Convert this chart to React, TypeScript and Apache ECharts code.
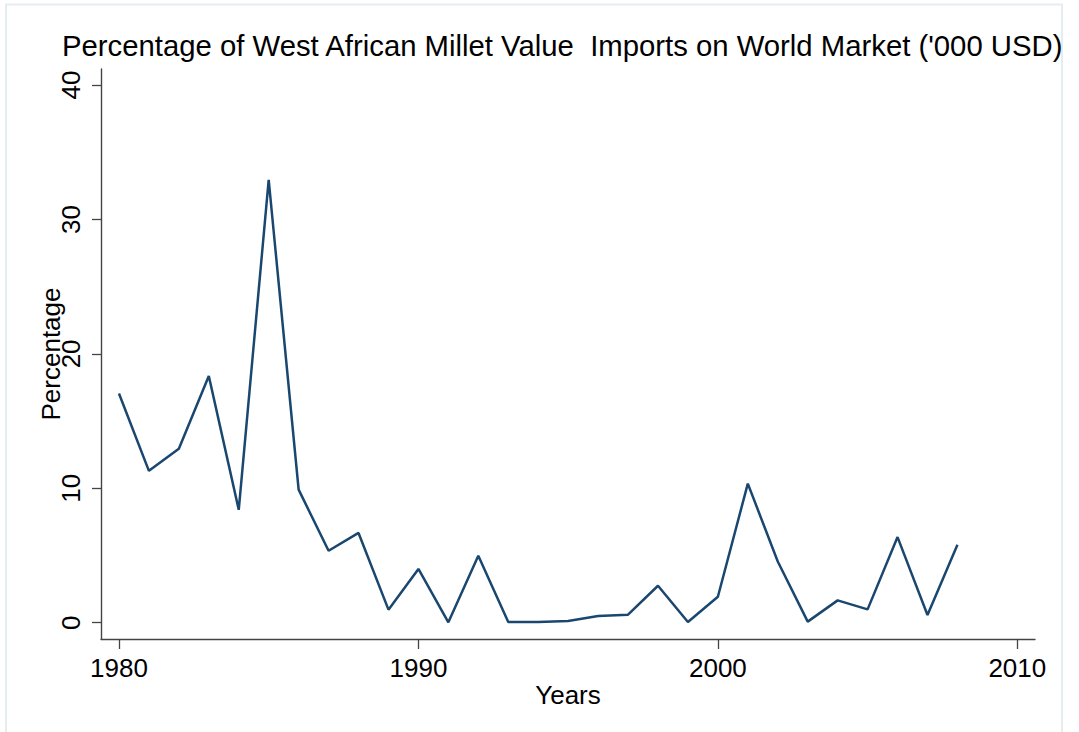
import React, { useEffect, useRef } from "react";
import * as echarts from "echarts";

const titleText = "Percentage of West African Millet Value  Imports on World Market ('000 USD)";
const years = [
  1980, 1981, 1982, 1983, 1984, 1985, 1986, 1987, 1988, 1989,
  1990, 1991, 1992, 1993, 1994, 1995, 1996, 1997, 1998, 1999,
  2000, 2001, 2002, 2003, 2004, 2005, 2006, 2007, 2008,
];
const percentage = [
  17.05, 11.3, 12.95, 18.35, 8.4, 32.95, 9.9, 5.35, 6.68, 0.97,
  4.0, 0.03, 4.98, 0.05, 0.05, 0.13, 0.5, 0.6, 2.75, 0.05,
  1.93, 10.35, 4.55, 0.08, 1.66, 0.99, 6.37, 0.57, 5.8,
];
const xTicks = [1980, 1990, 2000, 2010];
const yTicks = [0, 10, 20, 30, 40];

const FONT = "Liberation Sans";

export default function App() {
  const ref = useRef<HTMLDivElement>(null);
  useEffect(() => {
    document.body.style.margin = "0";
    const chart = echarts.init(ref.current!, null, { renderer: "svg" });
    chart.setOption({
      animation: false,
      backgroundColor: "#ffffff",
      graphic: [
        {
          type: "rect",
          shape: { x: 6, y: 4.5, width: 1056, height: 760 },
          style: { fill: "none", stroke: "#e4edf0", lineWidth: 2 },
          silent: true,
        },
        {
          type: "text",
          left: 62,
          top: 31,
          style: { text: titleText, fontFamily: FONT, fontSize: 29.3, fill: "#000" },
        },
      ],
      grid: { left: 101, right: 44, top: 69, bottom: 93 },
      xAxis: {
        type: "value",
        min: 1979.4,
        max: 2010.59,
        name: "Years",
        nameLocation: "middle",
        nameGap: 43,
        nameMoveOverlap: false,
        nameTextStyle: { fontFamily: FONT, fontSize: 26, color: "#000" },
        axisLine: { show: true, onZero: false, lineStyle: { color: "#444", width: 1.4 } },
        axisTick: { show: true, length: 10, customValues: xTicks, lineStyle: { color: "#444", width: 1.3 } },
        axisLabel: {
          customValues: xTicks,
          formatter: (v: number) => String(v),
          fontFamily: FONT,
          fontSize: 26,
          color: "#000",
          margin: 16,
        },
        splitLine: { show: false },
      },
      yAxis: {
        type: "value",
        min: -1.213,
        max: 41.2,
        name: "Percentage",
        nameLocation: "middle",
        nameGap: 37,
        nameRotate: 90,
        nameMoveOverlap: false,
        nameTextStyle: { fontFamily: FONT, fontSize: 26, color: "#000" },
        axisLine: { show: true, onZero: false, lineStyle: { color: "#444", width: 1.4 } },
        axisTick: { show: true, length: 9, customValues: yTicks, lineStyle: { color: "#444", width: 1.3 } },
        axisLabel: {
          customValues: yTicks,
          formatter: (v: number) => String(v),
          rotate: 90,
          fontFamily: FONT,
          fontSize: 26,
          color: "#000",
          margin: 17,
        },
        splitLine: { show: false },
      },
      series: [
        {
          type: "line",
          data: years.map((y, i) => [y, percentage[i]]),
          symbol: "none",
          lineStyle: { color: "#1a476f", width: 2.5 },
        },
      ],
    });
    return () => chart.dispose();
  }, []);
  return <div ref={ref} style={{ width: 1079, height: 732 }} />;
}
